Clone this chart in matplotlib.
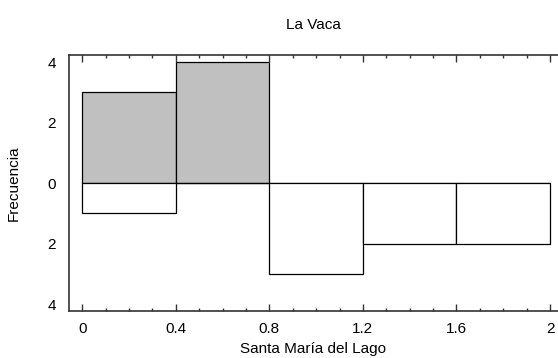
import matplotlib
matplotlib.use("Agg")
from matplotlib import pyplot as plt
from matplotlib.ticker import MultipleLocator, FuncFormatter

plt.rcParams['font.family'] = ['Liberation Sans', 'DejaVu Sans']

# bins and counts
bin_left = [0.0, 0.4, 0.8, 1.2, 1.6]
bin_width = 0.4
la_vaca = [3, 4, 0, 0, 0]
santa_maria = [1, 0, 3, 2, 2]

fig = plt.figure(figsize=(5.58, 3.58), dpi=100)
ax = fig.add_axes([0.123, 0.131, 0.877, 0.715])

# upper histogram (gray) and lower mirrored histogram (white)
ax.bar(bin_left, la_vaca, width=bin_width, align="edge",
       color="#c0c0c0", edgecolor="black", linewidth=0.9)
ax.bar(bin_left, [-v for v in santa_maria], width=bin_width, align="edge",
       color="white", edgecolor="black", linewidth=0.9)

ax.set_xlim(-0.058, 2.034)
ax.set_ylim(-4.23, 4.23)

ax.xaxis.set_major_locator(MultipleLocator(0.4))
ax.xaxis.set_minor_locator(MultipleLocator(0.1))
ax.xaxis.set_major_formatter(FuncFormatter(lambda v, p: "%g" % round(v, 2)))
ax.yaxis.set_major_locator(MultipleLocator(2))
ax.yaxis.set_major_formatter(FuncFormatter(lambda v, p: "%d" % abs(round(v))))

ax.tick_params(axis="x", which="major", direction="in", length=5, width=1,
               top=True, bottom=True, labelsize=11, color="#333333", pad=8)
ax.tick_params(axis="x", which="minor", direction="in", length=2.5, width=1,
               top=True, bottom=True, color="#333333")
ax.tick_params(axis="y", length=0, labelsize=11, pad=9)

ax.spines["right"].set_visible(False)
for s in ["left", "top", "bottom"]:
    ax.spines[s].set_color("#333333")
    ax.spines[s].set_linewidth(1.2)

ax.set_title("La Vaca", fontsize=11, pad=19)
ax.set_xlabel("Santa María del Lago", fontsize=11, labelpad=4)
ax.set_ylabel("Frecuencia", fontsize=11, labelpad=19)

plt.savefig("out.png", dpi=100)
